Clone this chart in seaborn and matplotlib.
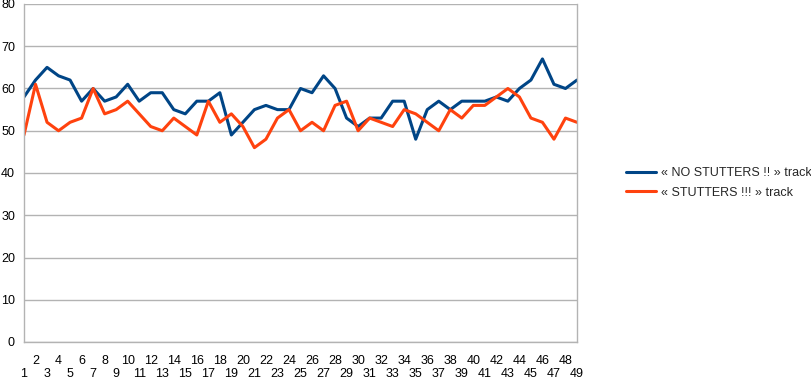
import matplotlib
matplotlib.use("Agg")
import matplotlib.pyplot as plt
import seaborn as sns
import pandas as pd
import numpy as np
from matplotlib.lines import Line2D

categories = list(range(1, 50))
no_stutters = [58, 62, 65, 63, 62, 57, 60, 57, 58, 61, 57, 59, 59, 55, 54, 57, 57, 59, 49, 52,
               55, 56, 55, 55, 60, 59, 63, 60, 53, 51, 53, 53, 57, 57, 48, 55, 57, 55, 57, 57,
               57, 58, 57, 60, 62, 67, 61, 60, 62]
stutters = [49, 61, 52, 50, 52, 53, 60, 54, 55, 57, 54, 51, 50, 53, 51, 49, 57, 52, 54, 51,
            46, 48, 53, 55, 50, 52, 50, 56, 57, 50, 53, 52, 51, 55, 54, 52, 50, 55, 53, 56,
            56, 58, 60, 58, 53, 52, 48, 53, 52]
series_names = ["« NO STUTTERS !! » track", "« STUTTERS !!! » track"]
colors = ["#004586", "#ff420e"]
y_ticks = list(range(0, 81, 10))

df = pd.DataFrame({
    "x": categories * 2,
    "value": no_stutters + stutters,
    "series": [series_names[0]] * len(categories) + [series_names[1]] * len(categories),
})

sns.set_style("white")
plt.rcParams["font.family"] = ["Liberation Sans", "DejaVu Sans"]
plt.rcParams["font.size"] = 9

fig = plt.figure(figsize=(8.12, 3.81), dpi=100)
ax = fig.add_axes([24 / 812, 1 - 342 / 381, (577 - 24) / 812, (342 - 4) / 381])

sns.lineplot(data=df, x="x", y="value", hue="series", palette=colors,
             linewidth=2.2, ax=ax, legend=False)

grid_c = "#b3b3b3"
ax.set_xlim(1, 49)
ax.set_ylim(0, 80)
ax.set_yticks(y_ticks)
ax.set_yticklabels([str(v) for v in y_ticks])
ax.yaxis.grid(True, color=grid_c, linewidth=1)
ax.xaxis.grid(False)
ax.set_axisbelow(True)

evens = [c for c in categories if c % 2 == 0]
odds = [c for c in categories if c % 2 == 1]
ax.set_xticks(evens)
ax.set_xticklabels([str(c) for c in evens])
ax.set_xticks(odds, minor=True)
ax.set_xticklabels([str(c) for c in odds], minor=True)
ax.tick_params(axis="x", which="major", direction="out", length=4, width=1, color=grid_c,
               pad=5, labelsize=9, labelcolor="black")
ax.tick_params(axis="x", which="minor", direction="out", length=4, width=1, color=grid_c,
               pad=15, labelsize=9, labelcolor="black")
ax.tick_params(axis="y", direction="out", length=4, width=1, color=grid_c, pad=2.5,
               labelsize=9, labelcolor="black")
for s in ["left", "bottom", "right"]:
    ax.spines[s].set_visible(True)
    ax.spines[s].set_color(grid_c)
    ax.spines[s].set_linewidth(1)
ax.spines["top"].set_visible(False)
ax.set_xlabel("")
ax.set_ylabel("")

handles = [Line2D([0], [0], color=c, linewidth=2.2) for c in colors]
fig.legend(handles, series_names, loc="center left",
           bbox_to_anchor=(615 / 812, 1 - 183 / 381), frameon=False,
           fontsize=9, handlelength=2.4, handletextpad=0.4, labelspacing=0.6)

fig.savefig("out.png", dpi=100)
